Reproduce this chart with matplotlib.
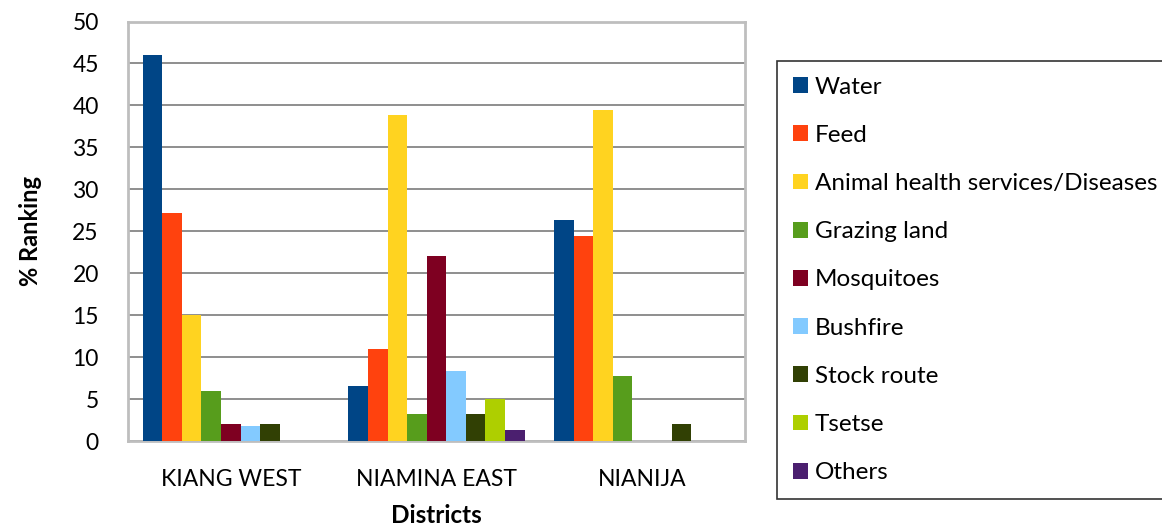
import matplotlib
matplotlib.use("Agg")
import matplotlib.pyplot as plt
import numpy as np

districts = ["KIANG WEST", "NIAMINA EAST", "NIANIJA"]
factors = ["Water", "Feed", "Animal health services/Diseases", "Grazing land",
           "Mosquitoes", "Bushfire", "Stock route", "Tsetse", "Others"]
water = [46.0, 6.6, 26.3]
feed = [27.2, 11.0, 24.4]
animal_health = [15.0, 38.9, 39.4]
grazing_land = [6.0, 3.2, 7.8]
mosquitoes = [2.0, 22.0, 0.0]
bushfire = [1.8, 8.3, 0.0]
stock_route = [2.0, 3.2, 2.0]
tsetse = [0.0, 5.0, 0.0]
others = [0.0, 1.3, 0.0]
series = [water, feed, animal_health, grazing_land, mosquitoes,
          bushfire, stock_route, tsetse, others]
colors = ["#004586", "#FF420E", "#FFD320", "#579D1C", "#7E0021",
          "#83CAFF", "#314004", "#AECF00", "#4B1F6F"]
y_ticks = [0, 5, 10, 15, 20, 25, 30, 35, 40, 45, 50]

plt.rcParams["font.family"] = ["Lato", "DejaVu Sans"]

fig = plt.figure(figsize=(11.62, 5.25), dpi=100)
ax = fig.add_axes([128 / 1162, 1 - 441 / 525, (745 - 128) / 1162, (441 - 21.5) / 525])

x = np.arange(len(districts))
n = len(series)
w = 1 / (n + 1.5)
handles = []
for i, (vals, col, name) in enumerate(zip(series, colors, factors)):
    b = ax.bar(x + (i - (n - 1) / 2) * w, vals, width=w, color=col,
               label=name, zorder=3, linewidth=0)
    handles.append(b)

ax.set_xlim(-0.5, len(districts) - 0.5)
ax.set_ylim(0, 50)
ax.set_yticks(y_ticks)
ax.set_xticks(x)
ax.set_xticklabels(districts, fontsize=16.5)
ax.tick_params(axis="y", labelsize=16.5, length=0, pad=21)
ax.tick_params(axis="x", length=0, pad=20)
ax.yaxis.grid(True, color="#868686", linewidth=1.3, zorder=0)
for s in ax.spines.values():
    s.set_color("#BEBEBE")
    s.set_linewidth(2)

ax.set_ylabel("% Ranking", fontsize=17, fontweight="bold", labelpad=22)
ax.set_xlabel("Districts", fontsize=17.5, fontweight="bold", labelpad=10)

leg = fig.legend(handles=handles, loc="upper left",
                 bbox_to_anchor=(777 / 1162, 1 - 61 / 525),
                 fontsize=17.5, frameon=True, fancybox=False,
                 handlelength=0.62, handleheight=0.62, handletextpad=0.3,
                 labelspacing=1.12, borderpad=0.64, borderaxespad=0)
leg.get_frame().set_edgecolor("black")
leg.get_frame().set_linewidth(1.2)

fig.savefig("out.png", dpi=100)
